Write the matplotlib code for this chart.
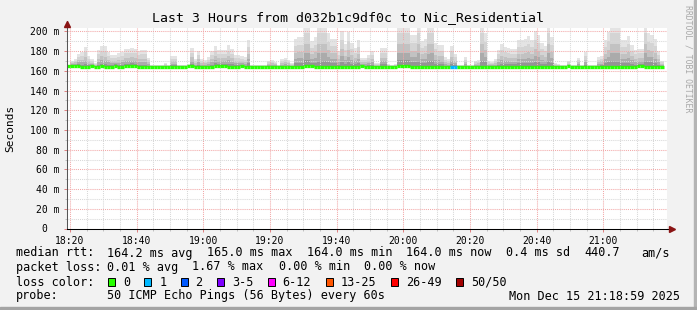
import matplotlib
matplotlib.use("Agg")
import matplotlib.pyplot as plt
import numpy as np
from matplotlib.patches import Rectangle

plt.rcParams['font.family'] = ['DejaVu Sans Mono']

# ---- data ----
title = "Last 3 Hours from d032b1c9df0c to Nic_Residential"
tick_minutes = [0, 20, 40, 60, 80, 100, 120, 140, 160]   # minutes after 18:20
tick_labels = ["18:20", "18:40", "19:00", "19:20", "19:40",
               "20:00", "20:20", "20:40", "21:00"]
y_ticks = [0, 20, 40, 60, 80, 100, 120, 140, 160, 180, 200]
y_labels = ["0  ", "20 m", "40 m", "60 m", "80 m", "100 m", "120 m",
            "140 m", "160 m", "180 m", "200 m"]

# one value per minute (ms), top of the smoke = slowest ping
smoke_top = [
    166, 170, 172, 177, 179, 184, 175, 172, 168, 181,
    185, 185, 179, 176, 176, 178, 179, 182, 182, 183,
    182, 180, 181, 181, 173, 166, 166, 166, 166, 168,
    166, 175, 175, 166, 166, 166, 167, 183, 172, 180,
    172, 171, 174, 180, 185, 181, 181, 181, 186, 182,
    176, 176, 175, 174, 191, 166, 166, 166, 166, 166,
    170, 171, 169, 166, 172, 173, 171, 168, 192, 194,
    194, 210, 210, 190, 194, 210, 210, 210, 198, 192,
    192, 180, 200, 187, 199, 188, 183, 191, 173, 173,
    176, 180, 168, 168, 183, 183, 167, 166, 167, 210,
    210, 210, 210, 196, 196, 210, 190, 192, 210, 210,
    188, 186, 186, 174, 172, 185, 177, 166, 166, 174,
    166, 166, 170, 171, 210, 198, 170, 169, 172, 181,
    187, 184, 183, 182, 182, 191, 191, 192, 195, 191,
    200, 196, 188, 185, 210, 194, 168, 167, 166, 166,
    170, 166, 166, 173, 166, 179, 166, 166, 166, 174,
    175, 191, 199, 210, 210, 210, 191, 191, 195, 186,
    181, 182, 182, 210, 198, 196, 192, 180, 170,
]

median_rtt = [
    165, 165, 165, 165, 164, 164, 164, 164.5, 164, 164,
    164.5, 164, 164, 164, 165, 164, 164, 165, 165, 165,
    165, 164, 164, 164, 164, 164, 164, 164, 164, 164,
    164, 164, 164, 164, 164, 164, 164.5, 164.5, 164, 164,
    164, 164, 164, 164, 165, 165, 165, 165, 164, 164,
    164, 164, 164.5, 164, 164, 164, 164, 164, 164, 164,
    164, 164, 164, 164, 164, 164, 164, 164, 164, 164,
    164, 164.5, 164.5, 164.5, 164, 164, 164, 164, 164, 164,
    164, 164, 164, 164, 164, 164, 164, 164, 164.5, 164,
    164, 164, 164, 164, 164, 164, 164, 164, 164, 165,
    165, 165, 165, 164, 164, 164, 164, 164, 163.5, 164,
    163.5, 164, 163.5, 164, 164, 164, 164, 164, 164, 164,
    164, 164, 164, 164, 164, 164, 164, 164, 164, 164,
    164, 164, 164, 164, 164, 164, 164, 164, 164, 164,
    164, 164, 164, 164, 164, 164, 164, 164, 164, 164,
    164.5, 164, 164, 164, 164, 164, 164, 164, 164, 164,
    164, 164, 164, 164, 164, 164, 164, 164, 164, 164,
    164, 165, 165, 164, 164, 164, 164, 164, 164,
]

# lost pings per minute (only two minutes lost one ping)
loss_pings = [0] * 115 + [1, 1] + [0] * 62

loss_legend = ["0", "1", "2", "3-5", "6-12", "13-25", "26-49", "50/50"]
loss_colors = ["#26ff00", "#00b8ff", "#0059ff", "#7e00ff",
               "#ff00ff", "#ff5500", "#ff0000", "#a10000"]
loss_limits = [0, 1, 2, 5, 12, 25, 49, 50]

rtt_stats = ["164.2 ms avg", "165.0 ms max", "164.0 ms min",
             "164.0 ms now", "0.4 ms sd", "440.7", "am/s"]
loss_stats = ["0.01 % avg", "1.67 % max", "0.00 % min", "0.00 % now"]
probe_text = "50 ICMP Echo Pings (56 Bytes) every 60s"
stamp_text = "Mon Dec 15 21:18:59 2025"

W, H = 697, 310


def fx(px):
    return px / W


def fy(py):
    return 1 - py / H


def loss_color(n):
    for lim, col in zip(loss_limits, loss_colors):
        if n <= lim:
            return col
    return loss_colors[-1]


fig = plt.figure(figsize=(W / 100, H / 100), dpi=100)
fig.patch.set_facecolor('#f2f2f2')

# 3d-ish frame of the rrdtool canvas
fig.patches.append(Rectangle((fx(694), 0), fx(3), 1, transform=fig.transFigure,
                             color='#b4b4b4', zorder=0))
fig.patches.append(Rectangle((0, 0), 1, 3 / H, transform=fig.transFigure,
                             color='#a4a4a4', zorder=0))

ax = fig.add_axes([fx(67), fy(228.5), fx(600), 201 / H])
ax.set_facecolor('white')

x0 = -0.9  # left edge of the graph, in minutes after 18:20
n = len(smoke_top)
xs = x0 + np.arange(n)
top = np.array(smoke_top, dtype=float)
med = np.array(median_rtt, dtype=float)

# smoke: lighter bands further away from the median
for frac, col in [(1.0, '#e4e4e4'), (0.75, '#d4d4d4'), (0.5, '#c2c2c2'),
                  (0.3, '#ababab'), (0.14, '#949494')]:
    ax.bar(xs, (top - med) * frac, bottom=med, width=1.0, align='edge',
           color=col, linewidth=0, zorder=1)

# median line coloured by packet loss
ax.hlines(med, xs, xs + 1, colors=[loss_color(v) for v in loss_pings],
          linewidth=2.4, zorder=3)

ax.set_xlim(x0, x0 + 180)
ax.set_ylim(0, 204)

ax.set_xticks(tick_minutes)
ax.set_xticklabels(tick_labels)
ax.set_xticks(np.arange(-0, 180, 5), minor=True)
ax.set_yticks(y_ticks)
ax.set_yticklabels(y_labels)
ax.set_yticks(np.arange(0, 205, 10), minor=True)

dots = (0, (1, 1))
ax.grid(which='minor', color='#d8d8d8', linestyle=dots, linewidth=0.75)
ax.grid(which='major', color='#f2a8a8', linestyle=dots, linewidth=0.75)
ax.set_axisbelow(False)

ax.tick_params(which='major', length=2.5, width=0.7, color='#e08080',
               labelsize=7, pad=3, labelcolor='black')
ax.tick_params(which='minor', length=1.5, width=0.7, color='#c0c0c0')

for s in ('top', 'right'):
    ax.spines[s].set_visible(False)
ax.spines['left'].set_color('#555555')
ax.spines['left'].set_linewidth(0.75)
ax.spines['bottom'].set_color('black')
ax.spines['bottom'].set_linewidth(0.75)
ax.spines['left'].set_zorder(4)
ax.spines['bottom'].set_zorder(4)

# axis extensions and arrows
ax.plot([0, 0], [1, 1.03], transform=ax.transAxes, color='#555555',
        linewidth=0.75, clip_on=False)
ax.plot([1, 1.008], [0, 0], transform=ax.transAxes, color='black',
        linewidth=0.75, clip_on=False)
ax.plot([0], [1.017], marker='^', markersize=4.5, color='#8a1414',
        transform=ax.transAxes, clip_on=False, zorder=5)
ax.plot([1.008], [0], marker='>', markersize=4.5, color='#8a1414',
        transform=ax.transAxes, clip_on=False, zorder=5)

# title, axis label, watermark
fig.text(fx(348), fy(18), title, ha='center', va='center', fontsize=9.55)
fig.text(fx(10), fy(128), "Seconds", rotation=90, ha='center', va='center',
         fontsize=8)
fig.text(fx(688), fy(5), "RRDTOOL / TOBI OETIKER", rotation=270,
         ha='center', va='top', fontsize=5.9, color='#a8a8a8')

# legend block
fs = 8.45
row_y = [253, 267, 282, 296]
fig.text(fx(16), fy(row_y[0]), "median rtt:", va='center', fontsize=fs)
for txt, px in zip(rtt_stats, [107, 207, 307, 406, 506, 584, 641]):
    fig.text(fx(px), fy(row_y[0]), txt, va='center', fontsize=fs)

fig.text(fx(16), fy(row_y[1]), "packet loss:", va='center', fontsize=fs)
for txt, px in zip(loss_stats, [107, 192, 279, 364]):
    fig.text(fx(px), fy(row_y[1]), txt, va='center', fontsize=fs)

fig.text(fx(16), fy(row_y[2]), "loss color:", va='center', fontsize=fs)
bx = 108.0
for lab, col in zip(loss_legend, loss_colors):
    fig.patches.append(Rectangle((fx(bx), fy(row_y[2] + 4)), fx(7), 8 / H,
                                 transform=fig.transFigure, facecolor=col,
                                 edgecolor='black', linewidth=0.7))
    fig.text(fx(bx + 15), fy(row_y[2]), lab, va='center', fontsize=fs)
    bx += (len(lab) + 4) * 7.25

fig.text(fx(16), fy(row_y[3]), "probe:", va='center', fontsize=fs)
fig.text(fx(107), fy(row_y[3]), probe_text, va='center', fontsize=fs)
fig.text(fx(680), fy(row_y[3]), stamp_text, va='center', ha='right',
         fontsize=fs)

fig.savefig("out.png", dpi=100, facecolor=fig.get_facecolor())
